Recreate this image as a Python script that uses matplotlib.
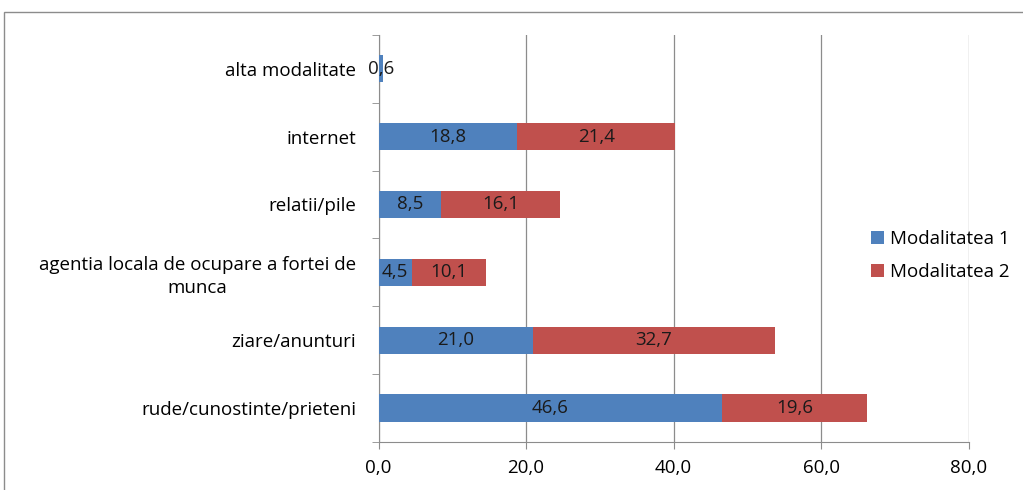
import matplotlib.pyplot as plt
from matplotlib.patches import Rectangle

# categories from bottom to top
categories = ["rude/cunostinte/prieteni", "ziare/anunturi",
              "agentia locala de ocupare a fortei de\nmunca",
              "relatii/pile", "internet", "alta modalitate"]
mod1 = [46.6, 21.0, 4.5, 8.5, 18.8, 0.6]
mod2 = [19.6, 32.7, 10.1, 16.1, 21.4, 0.0]
series_names = ["Modalitatea 1", "Modalitatea 2"]
xticks = [0, 20, 40, 60, 80]

blue = "#4F81BD"
red = "#C0504D"
fs = 13.5

plt.rcParams["font.family"] = ["Open Sans", "DejaVu Sans"]

fig = plt.figure(figsize=(10.23, 4.9), dpi=100)
ax = fig.add_axes([0.370, 0.098, 0.577, 0.831])

# outer chart border
fig.patches.append(Rectangle((4 / 1023, -0.1), 1.2, 1 - 12 / 490 + 0.1,
                             transform=fig.transFigure, fill=False,
                             edgecolor="#8c8c8c", linewidth=1.0))

y = list(range(len(categories)))
b1 = ax.barh(y, mod1, height=0.4, color=blue, label=series_names[0], zorder=3)
b2 = ax.barh(y, mod2, left=mod1, height=0.4, color=red, label=series_names[1], zorder=3)

def fmt(v):
    return f"{v:.1f}".replace(".", ",")

for bars, vals in ((b1, mod1), (b2, mod2)):
    for bar, v in zip(bars, vals):
        if v <= 0:
            continue
        ax.text(bar.get_x() + bar.get_width() / 2, bar.get_y() + bar.get_height() / 2,
                fmt(v), ha="center", va="center", fontsize=fs, color="#1a1a1a", zorder=4)

ax.set_xlim(0, 80)
ax.set_ylim(-0.5, len(categories) - 0.5)
ax.set_xticks(xticks)
ax.set_xticklabels([fmt(t) for t in xticks], fontsize=fs)
ax.set_yticks(y)
ax.set_yticklabels(categories, fontsize=fs, ha="right")
for lbl in ax.get_yticklabels():
    lbl.set_multialignment("center")
    lbl.set_linespacing(1.35)
ax.tick_params(axis="y", length=0, pad=16)
ax.set_yticks([i - 0.5 for i in range(len(categories) + 1)], minor=True)
ax.tick_params(axis="y", which="minor", length=5, color="#8c8c8c")
ax.tick_params(axis="x", length=5, color="#8c8c8c", pad=7)

ax.grid(axis="x", color="#8c8c8c", linewidth=0.9, zorder=0)
for s in ("top", "right"):
    ax.spines[s].set_visible(False)
for s in ("left", "bottom"):
    ax.spines[s].set_color("#8c8c8c")

ax.legend(loc="center left", bbox_to_anchor=(0.835, 0.478), bbox_transform=fig.transFigure,
          frameon=False, fontsize=fs, handlelength=0.7, handleheight=0.7,
          handletextpad=0.3, labelspacing=0.8)

fig.savefig("out.png", dpi=100)
